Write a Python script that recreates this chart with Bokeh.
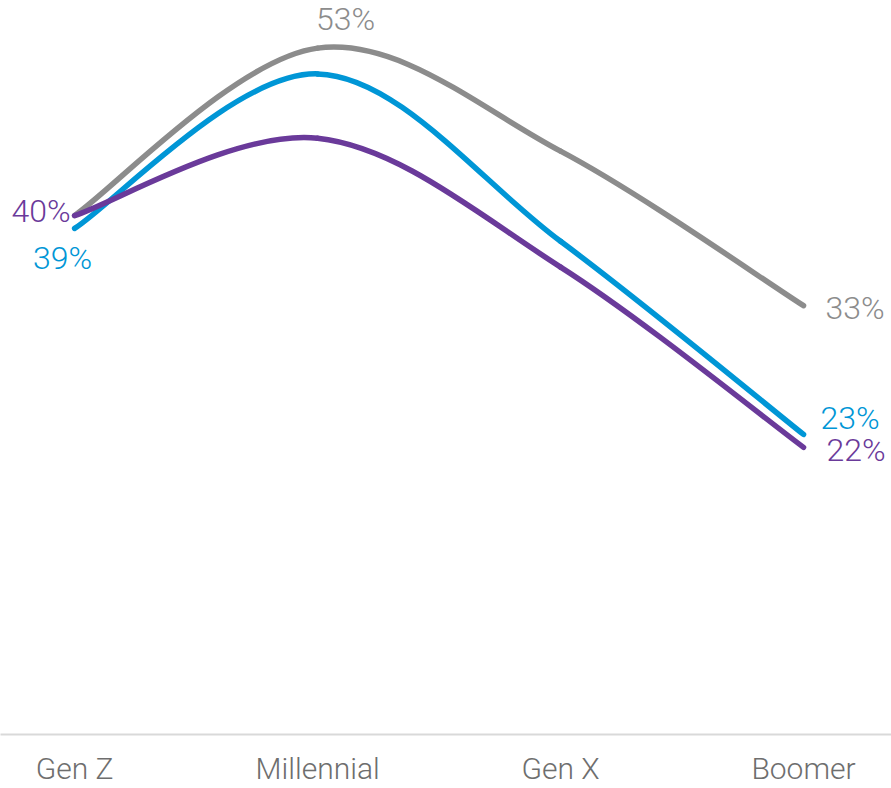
import numpy as np
from bokeh.plotting import figure
from bokeh.models import Range1d, FixedTicker, ColumnDataSource
from bokeh.core.properties import value
from bokeh.embed import file_html
from bokeh.resources import INLINE

# Share of respondents by generation, three series
generations = ["Gen Z", "Millennial", "Gen X", "Boomer"]
gray_values = [40, 53, 45, 33]
blue_values = [39, 51, 38, 23]
purple_values = [40, 46, 36, 22]

GRAY = "#8C8C8C"
BLUE = "#0096D6"
PURPLE = "#6A3A9A"
VALUE_FONT = value("Roboto Light, Roboto, sans-serif")


def smooth_segments(xs, ys):
    """Catmull-Rom style cubic Bezier segments through every point."""
    xs = np.asarray(xs, dtype=float)
    ys = np.asarray(ys, dtype=float)
    n = len(xs)
    px = np.concatenate([[xs[0]], xs, [xs[-1]]])
    py = np.concatenate([[ys[0]], ys, [ys[-1]]])
    seg = dict(x0=[], y0=[], x1=[], y1=[], cx0=[], cy0=[], cx1=[], cy1=[])
    for i in range(n - 1):
        j = i + 1
        seg["x0"].append(px[j]); seg["y0"].append(py[j])
        seg["x1"].append(px[j + 1]); seg["y1"].append(py[j + 1])
        seg["cx0"].append(px[j] + (px[j + 1] - px[j - 1]) / 6)
        seg["cy0"].append(py[j] + (py[j + 1] - py[j - 1]) / 6)
        seg["cx1"].append(px[j + 1] - (px[j + 2] - px[j]) / 6)
        seg["cy1"].append(py[j + 1] - (py[j + 2] - py[j]) / 6)
    return seg


x_idx = list(range(len(generations)))

p = figure(
    width=891, height=788,
    x_range=Range1d(-0.305, 3.362),
    y_range=Range1d(-0.3, 56.7),
    y_axis_location=None,
    output_backend="svg",
    toolbar_location=None,
    min_border=0,
)
p.outline_line_color = None
p.xgrid.visible = False
p.ygrid.visible = False
p.background_fill_color = "white"
p.border_fill_color = "white"

for vals, color in [(gray_values, GRAY), (blue_values, BLUE), (purple_values, PURPLE)]:
    src = ColumnDataSource(smooth_segments(x_idx, vals))
    p.bezier(x0="x0", y0="y0", x1="x1", y1="y1", cx0="cx0", cy0="cy0",
             cx1="cx1", cy1="cy1", source=src, line_color=color,
             line_width=5.5, line_cap="round")

# value labels: (series values, point index, color, align, x offset, y offset)
label_specs = [
    (purple_values, 0, PURPLE, "right", -4, -5),
    (blue_values, 0, BLUE, "center", -12, 30),
    (gray_values, 1, GRAY, "center", 28, -29),
    (gray_values, 3, GRAY, "left", 22, 2),
    (blue_values, 3, BLUE, "left", 17, -16),
    (purple_values, 3, PURPLE, "left", 23, 3),
]
for vals, i, color, align, dx, dy in label_specs:
    p.text(x=[x_idx[i]], y=[vals[i]], text=[f"{vals[i]}%"],
           text_color=color, text_font=VALUE_FONT, text_font_size="32px",
           text_align=align, text_baseline="middle",
           x_offset=dx, y_offset=dy)

ax = p.xaxis[0]
ax.ticker = FixedTicker(ticks=x_idx)
ax.major_label_overrides = {i: g for i, g in zip(x_idx, generations)}
ax.major_tick_line_color = None
ax.minor_tick_line_color = None
ax.axis_line_color = "#D9D9D9"
ax.axis_line_width = 2
ax.major_label_text_color = "#6E6E6E"
ax.major_label_text_font = "Roboto Light, Roboto, sans-serif"
ax.major_label_text_font_size = "30px"
ax.major_label_standoff = 10

open("out.html", "w").write(file_html(p, INLINE))
